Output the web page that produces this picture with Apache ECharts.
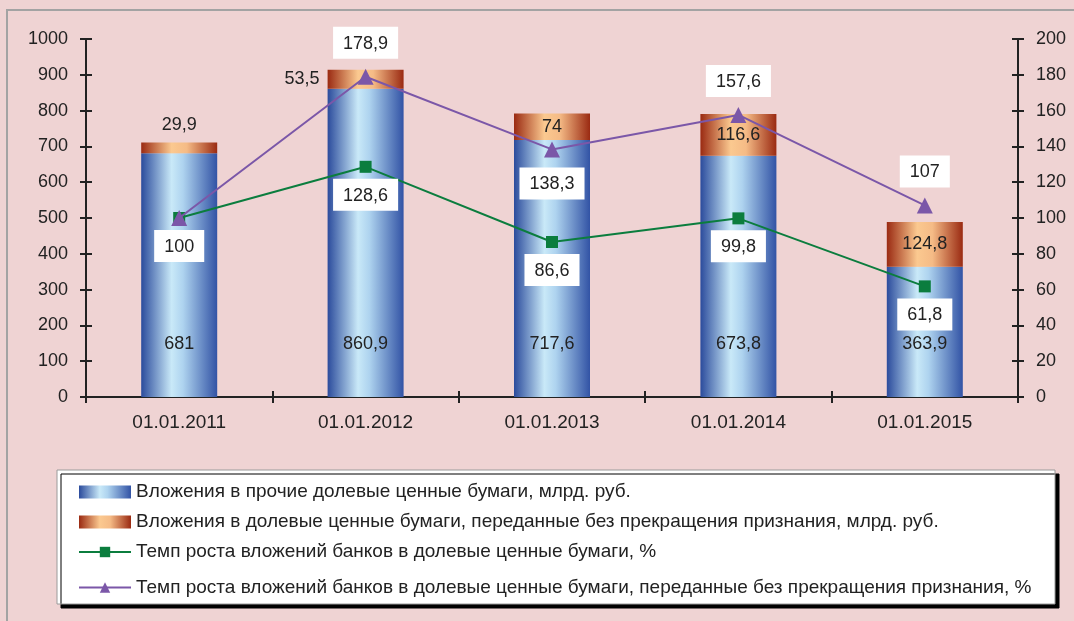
<!DOCTYPE html>
<html lang="ru">
<head>
    <meta charset="UTF-8">
    <title>Вложения в долевые ценные бумаги</title>
</head>
<style>
    html, body { margin: 0; padding: 0; background: #efd3d3; }
    #main { width: 1074px; height: 621px; }
</style>
<body>
    <div id="main"></div>
    <script src="https://cdn.jsdelivr.net/npm/echarts@6.0.0/dist/echarts.min.js"></script>
    <script>
        const dates = ['01.01.2011', '01.01.2012', '01.01.2013', '01.01.2014', '01.01.2015']
        const otherShares = [681, 860.9, 717.6, 673.8, 363.9]
        const transferredShares = [29.9, 53.5, 74, 116.6, 124.8]
        const growthShares = [100, 128.6, 86.6, 99.8, 61.8]
        const growthTransferred = [100, 178.9, 138.3, 157.6, 107]

        const names = [
            'Вложения в прочие долевые ценные бумаги, млрд. руб.',
            'Вложения в долевые ценные бумаги, переданные без прекращения признания, млрд. руб.',
            'Темп роста вложений банков в долевые ценные бумаги, %',
            'Темп роста вложений банков в долевые ценные бумаги, переданные без прекращения признания, %'
        ]

        const font = 'Liberation Sans'
        const txt = '#222'
        const comma = v => String(v).replace('.', ',')

        const blueGrad = new echarts.graphic.LinearGradient(0, 0, 1, 0, [
            { offset: 0, color: '#2b4b9c' },
            { offset: 0.4, color: '#c9e9f8' },
            { offset: 0.55, color: '#aed3ef' },
            { offset: 1, color: '#3253a5' }
        ])
        const orangeGrad = new echarts.graphic.LinearGradient(0, 0, 1, 0, [
            { offset: 0, color: '#9a2a12' },
            { offset: 0.4, color: '#fbc990' },
            { offset: 0.6, color: '#f5bb86' },
            { offset: 1, color: '#9a2a12' }
        ])

        const boxLabel = {
            show: true,
            backgroundColor: '#fff',
            padding: [8, 10, 6, 10],
            color: txt,
            fontFamily: font,
            fontSize: 18
        }

        // per-point label placement for the orange segment
        const orangePos = ['top', 'left', 'inside', 'inside', 'inside']
        const purpleShow = [false, true, true, true, true]
        const purplePos = ['top', 'top', 'bottom', 'top', 'top']

        const chart = echarts.init(document.getElementById('main'))

        const gridBox = { left: 86, right: 56, top: 39, bottom: 224 }
        const leftAxis = { type: 'value', min: 0, max: 1000, interval: 100 }
        const rightAxis = { type: 'value', min: 0, max: 200, interval: 20 }
        const axisLine = { show: true, lineStyle: { color: txt, width: 2 } }
        const outTick = { show: true, length: 6, lineStyle: { color: txt, width: 2 } }
        const inTick = { show: true, inside: true, length: 6, lineStyle: { color: txt, width: 2 } }
        const legendText = { color: txt, fontFamily: font, fontSize: 19 }

        chart.setOption({
            backgroundColor: '#efd3d3',
            textStyle: { fontFamily: font },
            graphic: [
                {
                    type: 'rect', z: -10,
                    shape: { x: 7, y: 10, width: 1100, height: 700 },
                    style: { fill: 'none', stroke: '#a3a3a3', lineWidth: 2 }
                },
                {
                    type: 'rect', z: -5,
                    shape: { x: 57, y: 470, width: 998, height: 134 },
                    style: {
                        fill: '#fff', stroke: '#9a9a9a', lineWidth: 1,
                        shadowColor: '#000', shadowOffsetX: 4, shadowOffsetY: 4
                    }
                }
            ],
            // second grid only carries the inward half of the crossing ticks
            grid: [gridBox, Object.assign({}, gridBox)],
            legend: [
                {
                    orient: 'vertical', left: 78, top: 481, padding: 0,
                    itemWidth: 52, itemHeight: 13, itemGap: 8,
                    data: [
                        { name: names[0], icon: 'rect' },
                        { name: names[1], icon: 'rect' },
                        { name: names[2] }
                    ],
                    textStyle: Object.assign({}, legendText, { lineHeight: 22 }),
                    itemGap: 8
                },
                {
                    orient: 'vertical', left: 78, top: 578, padding: 0,
                    itemWidth: 52, itemHeight: 13,
                    data: names.slice(3),
                    textStyle: legendText
                }
            ],
            xAxis: [
                {
                    type: 'category', data: dates,
                    axisLine, axisTick: outTick,
                    axisLabel: { color: txt, fontSize: 19, margin: 16 }
                },
                {
                    type: 'category', data: dates, gridIndex: 1,
                    axisLine: { show: false }, axisTick: inTick,
                    axisLabel: { show: false }
                }
            ],
            yAxis: [
                Object.assign({}, leftAxis, {
                    position: 'left', axisLine, axisTick: outTick,
                    axisLabel: { color: txt, fontSize: 18, margin: 18, formatter: v => String(v) },
                    splitLine: { show: false }
                }),
                Object.assign({}, rightAxis, {
                    position: 'right', axisLine, axisTick: outTick,
                    axisLabel: { color: txt, fontSize: 18, margin: 18, formatter: v => String(v) },
                    splitLine: { show: false }
                }),
                Object.assign({}, leftAxis, {
                    gridIndex: 1, position: 'left',
                    axisLine: { show: false }, axisTick: inTick,
                    axisLabel: { show: false }, splitLine: { show: false }
                }),
                Object.assign({}, rightAxis, {
                    gridIndex: 1, position: 'right',
                    axisLine: { show: false }, axisTick: inTick,
                    axisLabel: { show: false }, splitLine: { show: false }
                })
            ],
            series: [
                {
                    name: names[0], type: 'bar', stack: 'total', barWidth: 76,
                    itemStyle: { color: blueGrad },
                    label: {
                        show: true, position: 'insideBottom', distance: 44,
                        color: txt, fontSize: 18,
                        formatter: p => comma(p.value)
                    },
                    data: otherShares
                },
                {
                    name: names[1], type: 'bar', stack: 'total', barWidth: 76,
                    itemStyle: { color: orangeGrad },
                    label: { show: true, color: txt, fontSize: 18, distance: 8 },
                    data: transferredShares.map((v, i) => ({
                        value: v,
                        label: { position: orangePos[i], formatter: comma(v) }
                    }))
                },
                {
                    name: names[2], type: 'line', yAxisIndex: 1, z: 5,
                    symbol: 'rect', symbolSize: 12,
                    lineStyle: { color: '#0b7d3e', width: 2 },
                    itemStyle: { color: '#0b7d3e' },
                    label: Object.assign({}, boxLabel, {
                        position: 'bottom', distance: 6,
                        formatter: p => comma(p.value)
                    }),
                    data: growthShares
                },
                {
                    name: names[3], type: 'line', yAxisIndex: 1, z: 6,
                    symbol: 'triangle', symbolSize: 16,
                    lineStyle: { color: '#7b57a8', width: 2 },
                    itemStyle: { color: '#7b57a8' },
                    label: Object.assign({}, boxLabel, { distance: 10 }),
                    data: growthTransferred.map((v, i) => ({
                        value: v,
                        label: {
                            show: purpleShow[i],
                            position: purplePos[i],
                            formatter: comma(v)
                        }
                    }))
                }
            ]
        })
    </script>
</body>
</html>
